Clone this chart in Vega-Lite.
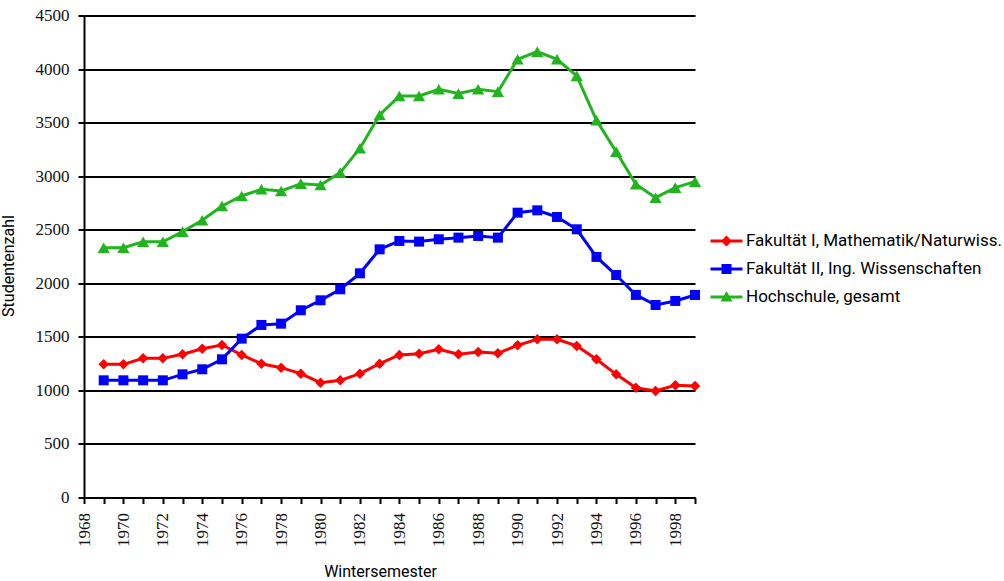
{
  "$schema": "https://vega.github.io/schema/vega-lite/v6.json",
  "width": 611,
  "height": 482,
  "autosize": {"type": "none"},
  "padding": {"left": 84, "top": 15.5, "right": 309, "bottom": 83.5},
  "background": "white",
  "config": {"view": {"stroke": null}},
  "datasets": {
    "students": [
      {"year":1969,"series":"Fakultät I, Mathematik/Naturwiss.","value":1243},
      {"year":1970,"series":"Fakultät I, Mathematik/Naturwiss.","value":1243},
      {"year":1971,"series":"Fakultät I, Mathematik/Naturwiss.","value":1299},
      {"year":1972,"series":"Fakultät I, Mathematik/Naturwiss.","value":1299},
      {"year":1973,"series":"Fakultät I, Mathematik/Naturwiss.","value":1337},
      {"year":1974,"series":"Fakultät I, Mathematik/Naturwiss.","value":1389},
      {"year":1975,"series":"Fakultät I, Mathematik/Naturwiss.","value":1424},
      {"year":1976,"series":"Fakultät I, Mathematik/Naturwiss.","value":1331},
      {"year":1977,"series":"Fakultät I, Mathematik/Naturwiss.","value":1249},
      {"year":1978,"series":"Fakultät I, Mathematik/Naturwiss.","value":1212},
      {"year":1979,"series":"Fakultät I, Mathematik/Naturwiss.","value":1156},
      {"year":1980,"series":"Fakultät I, Mathematik/Naturwiss.","value":1072},
      {"year":1981,"series":"Fakultät I, Mathematik/Naturwiss.","value":1094},
      {"year":1982,"series":"Fakultät I, Mathematik/Naturwiss.","value":1156},
      {"year":1983,"series":"Fakultät I, Mathematik/Naturwiss.","value":1249},
      {"year":1984,"series":"Fakultät I, Mathematik/Naturwiss.","value":1331},
      {"year":1985,"series":"Fakultät I, Mathematik/Naturwiss.","value":1343},
      {"year":1986,"series":"Fakultät I, Mathematik/Naturwiss.","value":1384},
      {"year":1987,"series":"Fakultät I, Mathematik/Naturwiss.","value":1337},
      {"year":1988,"series":"Fakultät I, Mathematik/Naturwiss.","value":1359},
      {"year":1989,"series":"Fakultät I, Mathematik/Naturwiss.","value":1346},
      {"year":1990,"series":"Fakultät I, Mathematik/Naturwiss.","value":1421},
      {"year":1991,"series":"Fakultät I, Mathematik/Naturwiss.","value":1477},
      {"year":1992,"series":"Fakultät I, Mathematik/Naturwiss.","value":1477},
      {"year":1993,"series":"Fakultät I, Mathematik/Naturwiss.","value":1415},
      {"year":1994,"series":"Fakultät I, Mathematik/Naturwiss.","value":1290},
      {"year":1995,"series":"Fakultät I, Mathematik/Naturwiss.","value":1150},
      {"year":1996,"series":"Fakultät I, Mathematik/Naturwiss.","value":1025},
      {"year":1997,"series":"Fakultät I, Mathematik/Naturwiss.","value":994},
      {"year":1998,"series":"Fakultät I, Mathematik/Naturwiss.","value":1048},
      {"year":1999,"series":"Fakultät I, Mathematik/Naturwiss.","value":1041},
      {"year":1969,"series":"Fakultät II, Ing. Wissenschaften","value":1094},
      {"year":1970,"series":"Fakultät II, Ing. Wissenschaften","value":1094},
      {"year":1971,"series":"Fakultät II, Ing. Wissenschaften","value":1094},
      {"year":1972,"series":"Fakultät II, Ing. Wissenschaften","value":1094},
      {"year":1973,"series":"Fakultät II, Ing. Wissenschaften","value":1150},
      {"year":1974,"series":"Fakultät II, Ing. Wissenschaften","value":1197},
      {"year":1975,"series":"Fakultät II, Ing. Wissenschaften","value":1290},
      {"year":1976,"series":"Fakultät II, Ing. Wissenschaften","value":1483},
      {"year":1977,"series":"Fakultät II, Ing. Wissenschaften","value":1611},
      {"year":1978,"series":"Fakultät II, Ing. Wissenschaften","value":1623},
      {"year":1979,"series":"Fakultät II, Ing. Wissenschaften","value":1748},
      {"year":1980,"series":"Fakultät II, Ing. Wissenschaften","value":1841},
      {"year":1981,"series":"Fakultät II, Ing. Wissenschaften","value":1944},
      {"year":1982,"series":"Fakultät II, Ing. Wissenschaften","value":2093},
      {"year":1983,"series":"Fakultät II, Ing. Wissenschaften","value":2317},
      {"year":1984,"series":"Fakultät II, Ing. Wissenschaften","value":2395},
      {"year":1985,"series":"Fakultät II, Ing. Wissenschaften","value":2389},
      {"year":1986,"series":"Fakultät II, Ing. Wissenschaften","value":2411},
      {"year":1987,"series":"Fakultät II, Ing. Wissenschaften","value":2426},
      {"year":1988,"series":"Fakultät II, Ing. Wissenschaften","value":2442},
      {"year":1989,"series":"Fakultät II, Ing. Wissenschaften","value":2426},
      {"year":1990,"series":"Fakultät II, Ing. Wissenschaften","value":2659},
      {"year":1991,"series":"Fakultät II, Ing. Wissenschaften","value":2681},
      {"year":1992,"series":"Fakultät II, Ing. Wissenschaften","value":2619},
      {"year":1993,"series":"Fakultät II, Ing. Wissenschaften","value":2504},
      {"year":1994,"series":"Fakultät II, Ing. Wissenschaften","value":2246},
      {"year":1995,"series":"Fakultät II, Ing. Wissenschaften","value":2077},
      {"year":1996,"series":"Fakultät II, Ing. Wissenschaften","value":1891},
      {"year":1997,"series":"Fakultät II, Ing. Wissenschaften","value":1797},
      {"year":1998,"series":"Fakultät II, Ing. Wissenschaften","value":1835},
      {"year":1999,"series":"Fakultät II, Ing. Wissenschaften","value":1891},
      {"year":1969,"series":"Hochschule, gesamt","value":2332},
      {"year":1970,"series":"Hochschule, gesamt","value":2332},
      {"year":1971,"series":"Hochschule, gesamt","value":2388},
      {"year":1972,"series":"Hochschule, gesamt","value":2388},
      {"year":1973,"series":"Hochschule, gesamt","value":2482},
      {"year":1974,"series":"Hochschule, gesamt","value":2588},
      {"year":1975,"series":"Hochschule, gesamt","value":2722},
      {"year":1976,"series":"Hochschule, gesamt","value":2815},
      {"year":1977,"series":"Hochschule, gesamt","value":2878},
      {"year":1978,"series":"Hochschule, gesamt","value":2862},
      {"year":1979,"series":"Hochschule, gesamt","value":2930},
      {"year":1980,"series":"Hochschule, gesamt","value":2918},
      {"year":1981,"series":"Hochschule, gesamt","value":3033},
      {"year":1982,"series":"Hochschule, gesamt","value":3261},
      {"year":1983,"series":"Hochschule, gesamt","value":3571},
      {"year":1984,"series":"Hochschule, gesamt","value":3749},
      {"year":1985,"series":"Hochschule, gesamt","value":3749},
      {"year":1986,"series":"Hochschule, gesamt","value":3811},
      {"year":1987,"series":"Hochschule, gesamt","value":3771},
      {"year":1988,"series":"Hochschule, gesamt","value":3811},
      {"year":1989,"series":"Hochschule, gesamt","value":3789},
      {"year":1990,"series":"Hochschule, gesamt","value":4091},
      {"year":1991,"series":"Hochschule, gesamt","value":4163},
      {"year":1992,"series":"Hochschule, gesamt","value":4091},
      {"year":1993,"series":"Hochschule, gesamt","value":3936},
      {"year":1994,"series":"Hochschule, gesamt","value":3522},
      {"year":1995,"series":"Hochschule, gesamt","value":3229},
      {"year":1996,"series":"Hochschule, gesamt","value":2924},
      {"year":1997,"series":"Hochschule, gesamt","value":2799},
      {"year":1998,"series":"Hochschule, gesamt","value":2893},
      {"year":1999,"series":"Hochschule, gesamt","value":2949}
    ]
  },
  "data": {"name": "students"},
  "encoding": {
    "x": {
      "field": "year",
      "type": "quantitative",
      "scale": {"domain": [1968, 1999], "nice": false, "zero": false},
      "axis": {
        "title": "Wintersemester",
        "titleFont": "Roboto",
        "titleFontSize": 16,
        "titleFontWeight": "normal",
        "titleColor": "black",
        "titlePadding": 17,
        "titleX": 296,
        "values": [1968,1969,1970,1971,1972,1973,1974,1975,1976,1977,1978,1979,1980,1981,1982,1983,1984,1985,1986,1987,1988,1989,1990,1991,1992,1993,1994,1995,1996,1997,1998,1999],
        "labelExpr": "datum.value % 2 == 0 ? '' + datum.value : ''",
        "labelAngle": 270,
        "labelFont": "Liberation Serif",
        "labelFontSize": 17,
        "labelFontWeight": "normal",
        "labelColor": "#111111",
        "labelPadding": 9,
        "labelOverlap": false,
        "labelFlush": false,
        "grid": false,
        "domainColor": "black",
        "domainWidth": 2,
        "tickColor": "black",
        "tickWidth": 2,
        "tickSize": 6
      }
    },
    "y": {
      "field": "value",
      "type": "quantitative",
      "scale": {"domain": [0, 4500], "nice": false},
      "axis": {
        "title": "Studentenzahl",
        "titleFont": "Roboto",
        "titleFontSize": 16,
        "titleFontWeight": "normal",
        "titleColor": "black",
        "titleX": -68,
        "titleY": 250,
        "values": [0,500,1000,1500,2000,2500,3000,3500,4000,4500],
        "format": "d",
        "labelFont": "Liberation Serif",
        "labelFontSize": 17,
        "labelFontWeight": "normal",
        "labelColor": "#111111",
        "labelPadding": 9,
        "grid": true,
        "gridColor": "black",
        "gridWidth": 2,
        "gridOpacity": 1,
        "domainColor": "black",
        "domainWidth": 2,
        "tickColor": "black",
        "tickWidth": 2,
        "tickSize": 6
      }
    },
    "color": {
      "field": "series",
      "type": "nominal",
      "scale": {
        "domain": ["Fakultät I, Mathematik/Naturwiss.", "Fakultät II, Ing. Wissenschaften", "Hochschule, gesamt"],
        "range": ["#ff0000", "#0000ff", "#22b41e"]
      },
      "legend": {
        "title": null,
        "orient": "none",
        "legendX": 634,
        "legendY": 217,
        "padding": 0,
        "labelFont": "Roboto",
        "labelFontSize": 17,
        "labelColor": "black",
        "labelLimit": 0,
        "labelOffset": 11,
        "rowPadding": 10,
        "symbolSize": 100,
        "symbolStrokeWidth": 0,
        "symbolOpacity": 1,
        "encode": {
          "symbols": {
            "update": {
              "shape": {"signal": "datum.value === 'Fakultät I, Mathematik/Naturwiss.' ? 'M-3.2,-0.3H3.2V0.3H-3.2Z M-1.1,0L0,-1.1L1.1,0L0,1.1Z' : datum.value === 'Fakultät II, Ing. Wissenschaften' ? 'M-3.2,-0.3H3.2V0.3H-3.2Z M-1,-1H1V1H-1Z' : 'M-3.2,-0.3H3.2V0.3H-3.2Z M-1.2,0.9L0,-1.2L1.2,0.9Z'"},
              "fill": {"scale": "color", "field": "value"},
              "strokeWidth": {"value": 0},
              "opacity": {"value": 1}
            }
          }
        }
      }
    }
  },
  "layer": [
    {
      "mark": {"type": "line", "strokeWidth": 3}
    },
    {
      "transform": [{"filter": "datum.series === 'Fakultät I, Mathematik/Naturwiss.'"}],
      "mark": {"type": "point", "shape": "diamond", "filled": true, "opacity": 1, "size": 110}
    },
    {
      "transform": [{"filter": "datum.series === 'Fakultät II, Ing. Wissenschaften'"}],
      "mark": {"type": "point", "shape": "square", "filled": true, "opacity": 1, "size": 100}
    },
    {
      "transform": [{"filter": "datum.series === 'Hochschule, gesamt'"}],
      "mark": {"type": "point", "shape": "triangle-up", "filled": true, "opacity": 1, "size": 150}
    }
  ]
}
